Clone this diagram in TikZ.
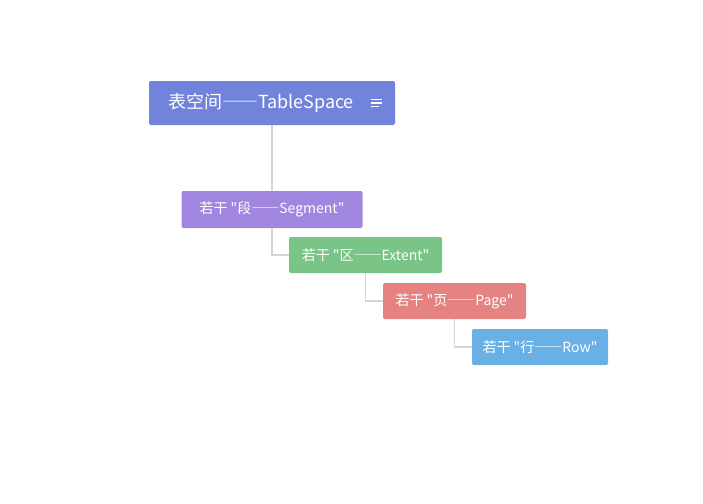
\documentclass[tikz,border=0pt]{standalone}
\usepackage{fontspec}
\setmainfont{Noto Sans CJK SC}[Ligatures=TeXOff]
\newfontfamily\fwdash{Noto Sans CJK SC}[RawFeature=+fwid]
\usetikzlibrary{backgrounds}

\definecolor{spacecol}{RGB}{113,131,219}
\definecolor{segcol}{RGB}{161,134,224}
\definecolor{extcol}{RGB}{121,196,134}
\definecolor{pagecol}{RGB}{228,131,129}
\definecolor{rowcol}{RGB}{105,176,228}

\tikzset{
  box/.style={rounded corners=2pt, text=white, inner sep=0pt, minimum height=36pt,
    font=\fontsize{14}{16}\selectfont},
  link/.style={draw=black!17, line width=1.2pt},
}

\begin{document}
\begin{tikzpicture}[x=1pt,y=-1pt]
\useasboundingbox (0,0) rectangle (703,503);
% levels of storage
\node[box, fill=spacecol, minimum width=246pt, minimum height=44pt, font=\fontsize{18}{20}\selectfont] (space) at (272,103) {表空间{\fwdash ——}TableSpace\hspace{22pt}\mbox{}};
\node[box, fill=segcol, minimum width=181pt, minimum height=37pt] (segment) at (272,209.5) {若干 "段{\fwdash ——}Segment"};
\node[box, fill=extcol, minimum width=153pt] (extent) at (365.5,255) {若干 "区{\fwdash ——}Extent"};
\node[box, fill=pagecol, minimum width=143pt] (page) at (454.5,301) {若干 "页{\fwdash ——}Page"};
\node[box, fill=rowcol, minimum width=136pt] (row) at (540,347) {若干 "行{\fwdash ——}Row"};
% menu icon
\draw[white, line width=1.3pt] (space.east) ++(-24,-3.5) -- ++(11,0);
\draw[white, line width=1.3pt] (space.east) ++(-24,0) -- ++(11,0);
\draw[white, line width=1.3pt] (space.east) ++(-24,3.5) -- ++(8,0);
% tree lines
\begin{scope}[on background layer]
\draw[link] (space.south) -- (segment.north);
\draw[link] (segment.south) |- (extent.west);
\draw[link] (extent.south) |- (page.west);
\draw[link] (page.south) |- (row.west);
\end{scope}
\end{tikzpicture}
\end{document}
